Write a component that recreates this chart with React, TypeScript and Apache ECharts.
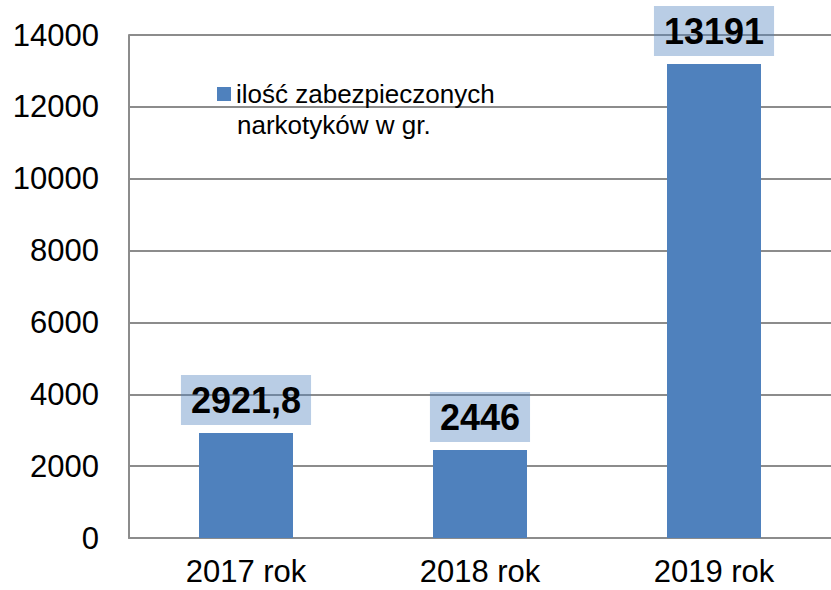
import React, { useEffect, useRef } from "react";
import * as echarts from "echarts";

const categories = ["2017 rok", "2018 rok", "2019 rok"];
const values = [2921.8, 2446, 13191];
const seriesName = "ilość zabezpieczonych";
const legendSecondLine = "narkotyków w gr.";
const yTicks = { min: 0, max: 14000, interval: 2000 };

const FONT = "'Liberation Sans', Arial, sans-serif";

export default function App() {
  const ref = useRef<HTMLDivElement>(null);
  useEffect(() => {
    document.body.style.margin = "0";
    const chart = echarts.init(ref.current!, null, { renderer: "svg" });
    chart.setOption({
      animation: false,
      textStyle: { fontFamily: FONT },
      grid: { left: 129, top: 35, bottom: 52, width: 705, containLabel: false },
      legend: {
        show: true,
        left: 217,
        top: 80,
        padding: 0,
        itemWidth: 14,
        itemHeight: 14,
        itemGap: 5,
        icon: "rect",
        data: [seriesName],
        textStyle: { fontSize: 26, color: "#000", fontFamily: FONT, lineHeight: 28 },
      },
      graphic: [
        {
          type: "text",
          left: 237,
          top: 112,
          style: { text: legendSecondLine, fontSize: 26, fill: "#000", fontFamily: FONT },
        },
      ],
      xAxis: {
        type: "category",
        data: categories,
        axisLine: { show: true, lineStyle: { color: "#8c8c8c", width: 2 } },
        axisTick: { show: false },
        axisLabel: { fontSize: 31, color: "#000", margin: 18, fontFamily: FONT },
      },
      yAxis: {
        type: "value",
        min: yTicks.min,
        max: yTicks.max,
        interval: yTicks.interval,
        axisLine: { show: true, lineStyle: { color: "#8c8c8c", width: 2 } },
        axisTick: { show: false },
        splitLine: { show: true, lineStyle: { color: "#8c8c8c", width: 2 } },
        axisLabel: {
          fontSize: 31,
          color: "#000",
          margin: 30,
          fontFamily: FONT,
          formatter: (v: number) => String(v),
        },
      },
      series: [
        {
          name: seriesName,
          type: "bar",
          data: values,
          barWidth: 94,
          itemStyle: { color: "#4F81BD" },
          label: {
            show: true,
            position: "top",
            distance: 8,
            formatter: (p: any) => String(p.value).replace(".", ","),
            fontSize: 36,
            fontWeight: "bold",
            color: "#000",
            fontFamily: FONT,
            lineHeight: 36,
            backgroundColor: "rgba(79,129,189,0.4)",
            padding: [7, 10, 7, 10],
          },
        },
      ],
    });
    return () => chart.dispose();
  }, []);
  return <div ref={ref} style={{ width: 831, height: 590 }} />;
}
